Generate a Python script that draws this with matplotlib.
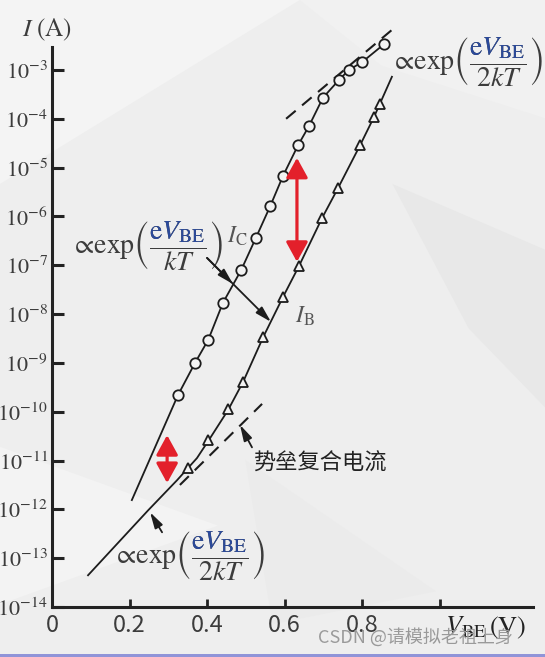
import numpy as np
import matplotlib.pyplot as plt
from matplotlib.patches import Polygon, Rectangle
from matplotlib.ticker import FixedLocator, NullLocator
from matplotlib.transforms import Bbox

plt.rcParams['mathtext.fontset'] = 'stix'
plt.rcParams['font.family'] = ['Noto Sans CJK SC', 'DejaVu Sans']

# collector current I_C, measured points (V_BE in V, log10 of I in A)
ic_v = [0.325, 0.369, 0.403, 0.441, 0.488, 0.526, 0.563, 0.596, 0.635, 0.663,
        0.699, 0.741, 0.766, 0.800, 0.857]
ic_log = [-9.66, -9.00, -8.53, -7.77, -7.10, -6.44, -5.79, -5.17, -4.54, -4.15,
          -3.57, -3.20, -3.00, -2.84, -2.47]
# base current I_B, measured points
ib_v = [0.351, 0.403, 0.454, 0.493, 0.545, 0.596, 0.637, 0.697, 0.738, 0.795,
        0.831, 0.846]
ib_log = [-11.16, -10.58, -9.95, -9.39, -8.47, -7.65, -7.02, -6.03, -5.42, -4.54,
          -3.96, -3.70]

# solid curves drawn through the points
ic_line_v = [0.206, 0.325, 0.369, 0.403, 0.441, 0.488, 0.526, 0.563, 0.596, 0.635,
             0.663, 0.699, 0.741, 0.766, 0.800, 0.857]
ic_line_log = [-11.81, -9.66, -9.00, -8.53, -7.77, -7.10, -6.44, -5.79, -5.17, -4.54,
               -4.15, -3.57, -3.20, -3.00, -2.84, -2.47]
ib_line_v = [0.093, 0.248, 0.323, 0.374, 0.408, 0.454, 0.493, 0.545, 0.596, 0.637,
             0.697, 0.738, 0.795, 0.831, 0.877]
ib_line_log = [-13.35, -12.02, -11.40, -10.95, -10.54, -9.97, -9.39, -8.47, -7.65,
               -7.02, -6.03, -5.42, -4.54, -3.96, -3.14]

# dashed asymptotes
hi_dash_v = [0.604, 0.877]
hi_dash_log = [-4.00, -2.18]
rec_dash_v = [0.330, 0.542]
rec_dash_log = [-11.50, -9.84]

# red double arrows (I_C / I_B gap)
gap_v = [0.632, 0.297]
gap_top = [-4.80, -10.48]
gap_bot = [-6.93, -11.46]

y_ticks = list(range(-3, -15, -1))
x_ticks = [0, 0.2, 0.4, 0.6, 0.8, 1.0]
x_labels = ['0', '0.2', '0.4', '0.6', '0.8', '']

INK = '#1c1c1c'
GRAY = '#3c3c3c'
BLUE = '#2b4a9b'
RED = '#e3202b'

fig = plt.figure(figsize=(5.45, 6.57), dpi=100, facecolor='#eeeeee')
# faint faceted background
for pts, c in [([(0, 1), (0.55, 1), (0, 0.72)], '#f4f4f4'),
               ([(0.55, 1), (1, 1), (1, 0.82), (0.7, 0.9)], '#f1f1f1'),
               ([(0.72, 0.72), (1, 0.62), (1, 0.38), (0.86, 0.5)], '#e8e8e8'),
               ([(0, 0.32), (0.4, 0.2), (0, 0.08)], '#f3f3f3'),
               ([(0.45, 0.3), (0.8, 0.1), (0.5, 0.05)], '#ebebeb')]:
    fig.add_artist(Polygon(pts, closed=True, transform=fig.transFigure,
                           facecolor=c, edgecolor='none', zorder=-10))
fig.add_artist(Rectangle((0, 0), 1, 3 / 657, transform=fig.transFigure,
                         facecolor='#9094d8', edgecolor='none', zorder=-9))

ax = fig.add_axes([52 / 545, 50 / 657, 481 / 545, 560 / 657])
ax.patch.set_alpha(0)
ax.set_yscale('log')
ax.set_xlim(0, 1.241)
ax.set_ylim(1e-14, 10 ** -2.53)

ax.plot(ic_line_v, 10 ** np.array(ic_line_log), color=INK, lw=1.3, clip_on=False)
ax.plot(ib_line_v, 10 ** np.array(ib_line_log), color=INK, lw=1.3, clip_on=False)
ax.plot(hi_dash_v, 10 ** np.array(hi_dash_log), color=INK, lw=1.5,
        ls=(0, (6, 4)), clip_on=False)
ax.plot(rec_dash_v, 10 ** np.array(rec_dash_log), color=INK, lw=1.5,
        ls=(0, (6, 4)), clip_on=False)
ax.plot(ic_v, 10 ** np.array(ic_log), 'o', ms=7.5, mfc='#f3f3f3', mec=INK,
        mew=1.3, clip_on=False, zorder=4)
ax.plot(ib_v, 10 ** np.array(ib_log), '^', ms=7.5, mfc='#f3f3f3', mec=INK,
        mew=1.3, clip_on=False, zorder=4)

for v, t, b in zip(gap_v, gap_top, gap_bot):
    ax.annotate('', xy=(v, 10 ** t), xytext=(v, 10 ** b),
                arrowprops=dict(arrowstyle='<|-|>,head_length=0.6,head_width=0.33',
                                color=RED, lw=2.3, mutation_scale=20,
                                shrinkA=0, shrinkB=0), zorder=5)

# axes styling
for s in ['top', 'right']:
    ax.spines[s].set_visible(False)
for s in ['left', 'bottom']:
    ax.spines[s].set_linewidth(2.2)
    ax.spines[s].set_color('#222222')
ax.yaxis.set_major_locator(FixedLocator([10.0 ** k for k in y_ticks]))
ax.yaxis.set_minor_locator(NullLocator())
ax.set_yticklabels([r'$10^{%d}$' % k for k in y_ticks])
ax.set_xticks(x_ticks)
ax.set_xticklabels(x_labels)
ax.tick_params(axis='y', direction='in', length=8.5, width=2.2, pad=3,
               labelsize=16, colors='#222222', labelcolor=GRAY)
ax.tick_params(axis='x', direction='in', length=6, width=2, pad=5,
               labelsize=17, colors='#222222', labelcolor=GRAY)

# formulas with blue numerator
FORM = r'$\propto\!\mathrm{exp}\left(\dfrac{\mathrm{e}V_{\mathrm{BE}}}{%s}\right%s$'
blue_parts = []


def formula(v, d, den):
    kw = dict(fontsize=20, va='baseline', ha='left')
    full = FORM % (den, ')')
    ax.text(v, 10 ** d, full, color=GRAY, **kw)
    tb = ax.text(v, 10 ** d, full, color=BLUE, clip_on=True, **kw)
    pre = ax.text(v, 10 ** d, FORM % (den, '.'), alpha=0, **kw)
    fr = ax.text(v, 10 ** d, r'$\dfrac{\mathrm{e}V_{\mathrm{BE}}}{%s}$' % den,
                 alpha=0, **kw)
    blue_parts.append((tb, pre, fr))


formula(0.046, -6.77, 'kT')
formula(0.872, -3.0, '2kT')
formula(0.155, -13.12, '2kT')

ax.text(0.452, 10 ** -6.545, r'$I_{\mathrm{C}}$', fontsize=17, color='#555555')
ax.text(0.627, 10 ** -8.18, r'$I_{\mathrm{B}}$', fontsize=17, color='#555555')
ax.text(0.519, 10 ** -11.05, '势垒复合电流', fontsize=16, color='#222222',
        va='center', family=['Noto Sans CJK SC'])

arrow = dict(arrowstyle='-|>,head_length=0.8,head_width=0.22', lw=1.3,
             color=INK, shrinkA=0, shrinkB=0, mutation_scale=12)
ax.annotate('', xy=(0.565, 10 ** -8.16), xytext=(0.400, 10 ** -6.85),
            arrowprops=arrow)
ax.annotate('', xy=(0.467, 10 ** -7.385), xytext=(0.400, 10 ** -6.85),
            arrowprops=arrow)
ax.annotate('', xy=(0.485, 10 ** -10.27), xytext=(0.516, 10 ** -10.73),
            arrowprops=arrow)
ax.annotate('', xy=(0.253, 10 ** -12.06), xytext=(0.284, 10 ** -12.47),
            arrowprops=arrow)

fig.text(22 / 545, 1 - 36 / 657, r'$I\ (\mathrm{A})$', fontsize=18, color=GRAY)
fig.text(445 / 545, 1 - 634 / 657, r'$V_{\mathrm{BE}}\,(\mathrm{V})$',
         fontsize=19, color='#222222')
fig.text(318 / 545, 1 - 637 / 657, 'CSDN @请模拟老祖上身', fontsize=13,
         color='#9a9a9a', va='center', family=['Noto Sans CJK SC', 'DejaVu Sans'])

fig.canvas.draw()
r = fig.canvas.get_renderer()
for tb, pre, fr in blue_parts:
    bp = pre.get_window_extent(r)
    bf = fr.get_window_extent(r)
    x1 = bp.x1
    x0 = x1 - bf.width
    ymid = bf.y0 + 0.5 * bf.height
    tb.set_clip_path(None)
    tb.set_clip_box(Bbox([[x0 + 1, ymid], [x1, bf.y1 + 6]]))
    pre.remove()
    fr.remove()

fig.savefig('out.png', dpi=100, facecolor=fig.get_facecolor())
